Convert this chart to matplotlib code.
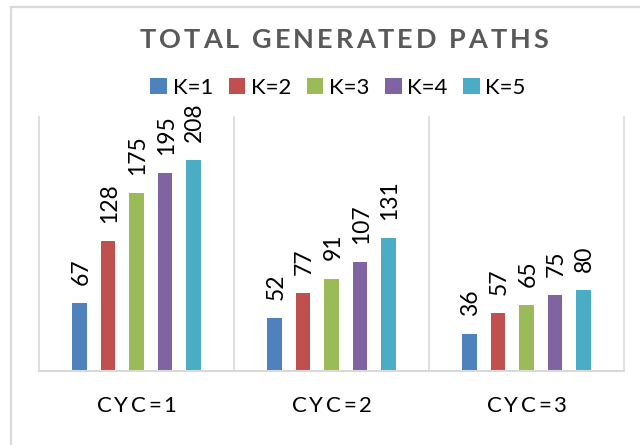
"""Total generated paths per CYC and K."""

import matplotlib.pyplot as plt
import numpy as np
from matplotlib.patches import Rectangle

categories = ["CYC=1", "CYC=2", "CYC=3"]
series_names = ["K=1", "K=2", "K=3", "K=4", "K=5"]
k1 = [67, 52, 36]
k2 = [128, 77, 57]
k3 = [175, 91, 65]
k4 = [195, 107, 75]
k5 = [208, 131, 80]
colors = ["#4F81BD", "#C0504D", "#9BBB59", "#8064A2", "#4BACC6"]

plt.rcParams["font.family"] = ["Lato", "DejaVu Sans"]

W, H = 640, 445


def spaced_text(fig, x, y, s, spacing, size, **kw):
    """Draw text centred at pixel (x, y) with extra letter spacing in px."""
    renderer = fig.canvas.get_renderer()
    t = fig.text(0, 0, s, fontsize=size, **kw)
    prop = t.get_fontproperties()
    t.remove()

    def width(sub):
        if not sub:
            return 0.0
        w, _, _ = renderer.get_text_width_height_descent(sub, prop, ismath=False)
        return w

    total = width(s) + spacing * (len(s) - 1)
    x0 = x - total / 2
    for i, ch in enumerate(s):
        xi = x0 + width(s[:i]) + spacing * i
        fig.text(xi / W, 1 - y / H, ch, fontsize=size, ha="left", va="center", **kw)


fig = plt.figure(figsize=(6.4, 4.45), dpi=100)

# outer chart frame
fig.add_artist(Rectangle((10.5 / W, -0.1), 1.2, 1.1 - 6.5 / H, transform=fig.transFigure,
                         fill=False, edgecolor="#D9D9D9", linewidth=1.6))

ax = fig.add_axes([39 / W, (H - 371) / H, 585 / W, 254 / H])

values = [k1, k2, k3, k4, k5]
x = np.arange(len(categories))
step = 0.146
bw = 0.0754
for i, (name, vals) in enumerate(zip(series_names, values)):
    pos = x + (i - 2) * step
    bars = ax.bar(pos, vals, bw, color=colors[i], label=name, zorder=3)
    for b, v in zip(bars, vals):
        ax.annotate(str(v), (b.get_x() + b.get_width() / 2, v), xytext=(1, 13),
                    textcoords="offset points", rotation=90, ha="center", va="bottom",
                    fontsize=16.5, color="#000000")

ax.set_xlim(-0.5, 2.5)
ax.set_ylim(0, 250)
for xb in np.arange(-0.5, 3, 1):
    ax.axvline(xb, color="#D9D9D9", lw=1.2, zorder=1, clip_on=False)
ax.axhline(0, color="#D9D9D9", lw=1.5, zorder=4, clip_on=False)
for s in ax.spines.values():
    s.set_visible(False)
ax.set_xticks([])
ax.set_yticks([])

leg = fig.legend(loc="center", bbox_to_anchor=(338 / W, 1 - 88 / H), ncol=5, frameon=False,
                 fontsize=16, handlelength=0.75, handleheight=0.75, handletextpad=0.25,
                 columnspacing=0.7, borderaxespad=0)

spaced_text(fig, 344, 40, "TOTAL GENERATED PATHS", 3.0, 19.5, fontweight="bold", color="#595959")
for i, c in enumerate(categories):
    cx = 39 + 195 * (i + 0.5)
    spaced_text(fig, cx, 406, c, 2.6, 16, color="#000000")

plt.savefig("out.png", dpi=100)
plt.close()
